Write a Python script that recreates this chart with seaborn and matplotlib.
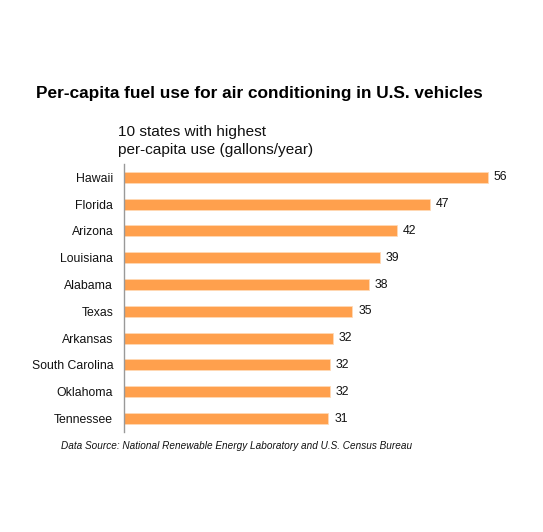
import seaborn as sns
import matplotlib.pyplot as plt
import pandas as pd

states = ["Hawaii", "Florida", "Arizona", "Louisiana", "Alabama",
          "Texas", "Arkansas", "South Carolina", "Oklahoma", "Tennessee"]
gallons = [56, 47, 42, 39.3, 37.6, 35.1, 32.1, 31.6, 31.6, 31.4]

df = pd.DataFrame({"state": states, "gallons": gallons})

sns.set_style("white")
plt.rcParams["font.family"] = ["Liberation Sans", "DejaVu Sans"]

fig = plt.figure(figsize=(5.43, 5.32), dpi=100)
ax = fig.add_axes([0.229, 0.188, 0.72, 0.504])

sns.barplot(data=df, x="gallons", y="state", orient="h", color="#FFA04D",
            saturation=1, width=0.41, edgecolor="#FFD9B5", linewidth=0.6, ax=ax)

for i, v in enumerate(gallons):
    ax.text(v + 0.9, i, f"{round(v)}", va="center", ha="left", fontsize=8.8, color="#111111")

ax.set_xlim(0, 60.2)
ax.set_ylim(9.5, -0.5)
ax.set_xlabel("")
ax.set_ylabel("")
ax.set_xticks([])
ax.tick_params(axis="y", length=0, pad=8, labelsize=8.8, labelcolor="#111111")
for s in ["top", "right", "bottom"]:
    ax.spines[s].set_visible(False)
ax.spines["left"].set_color("#999999")
ax.spines["left"].set_linewidth(1.0)

fig.text(0.478, 0.825, "Per-capita fuel use for air conditioning in U.S. vehicles",
         ha="center", va="center", fontsize=12.4, fontweight="bold", color="#000000")
fig.text(0.217, 0.735, "10 states with highest\nper-capita use (gallons/year)",
         ha="left", va="center", fontsize=11.1, color="#111111", linespacing=1.35)
fig.text(0.112, 0.161, "Data Source: National Renewable Energy Laboratory and U.S. Census Bureau",
         ha="left", va="center", fontsize=7.2, style="italic", color="#111111")

fig.savefig("out.png", dpi=100, facecolor="white")
